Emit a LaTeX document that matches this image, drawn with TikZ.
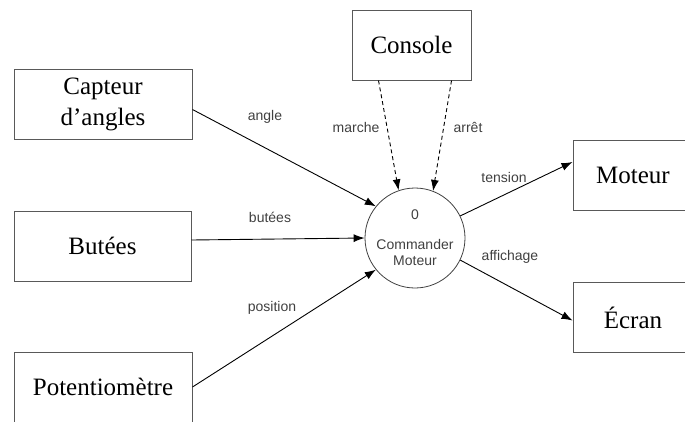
\documentclass[tikz,border=0pt]{standalone}
\usepackage{fontspec}
\setmainfont{Liberation Serif}
\setsansfont{Liberation Sans}
\usetikzlibrary{arrows.meta,positioning}
\tikzset{
  entity/.style={draw=black!65,line width=1pt,rectangle,minimum height=70pt,align=center,inner sep=0pt,font=\fontsize{25}{31}\selectfont},
  process/.style={draw=black!75,line width=0.8pt,circle,minimum size=100pt,inner sep=0pt,align=center,text=black!75,font=\sffamily\fontsize{14}{16}\selectfont},
  flowlabel/.style={text=black!75,font=\sffamily\fontsize{14}{16}\selectfont},
  flow/.style={->,line width=0.9pt},
  event/.style={flow,dash pattern=on 4pt off 3pt}
}

\begin{document}
\begin{tikzpicture}[x=1pt,y=-1pt,>={Latex[length=11pt,width=8pt]}]
  \useasboundingbox (0,0) rectangle (685,421);

  \node[entity,minimum width=178pt] (cap) at (103,104.5) {Capteur\\d'angles};
  \node[entity,minimum width=177pt] (but) at (102.5,246) {Butées};
  \node[entity,minimum width=178pt] (pot) at (103,387) {Potentiomètre};
  \node[entity,minimum width=119pt] (con) at (411.5,45) {Console};
  \node[entity,minimum width=120pt] (mot) at (633,175) {Moteur};
  \node[entity,minimum width=120pt] (ecr) at (633,317.5) {Écran};
  \node[process] (cmd) at (415,238) {0\\[14pt]Commander\\Moteur};

  \draw[flow] ([yshift=-5pt]cap.east) -- (cmd.141);
  \draw[flow] ([yshift=6pt]but.east) -- (cmd.west);
  \draw[flow] (pot.east) -- (cmd.219);
  \draw[event] ([xshift=-33pt]con.south) -- (cmd.109);
  \draw[event] ([xshift=40pt]con.south) -- (cmd.69);
  \draw[flow] (cmd.26) -- ([yshift=13pt]mot.west);
  \draw[flow] (cmd.-26) -- ([yshift=-3pt]ecr.west);

  \node[flowlabel] at (265,117) {angle};
  \node[flowlabel] at (270,217) {butées};
  \node[flowlabel] at (272,308) {position};
  \node[flowlabel] at (356,127) {marche};
  \node[flowlabel] at (468,127) {arrêt};
  \node[flowlabel] at (504,177) {tension};
  \node[flowlabel] at (510,257) {affichage};
\end{tikzpicture}
\end{document}
